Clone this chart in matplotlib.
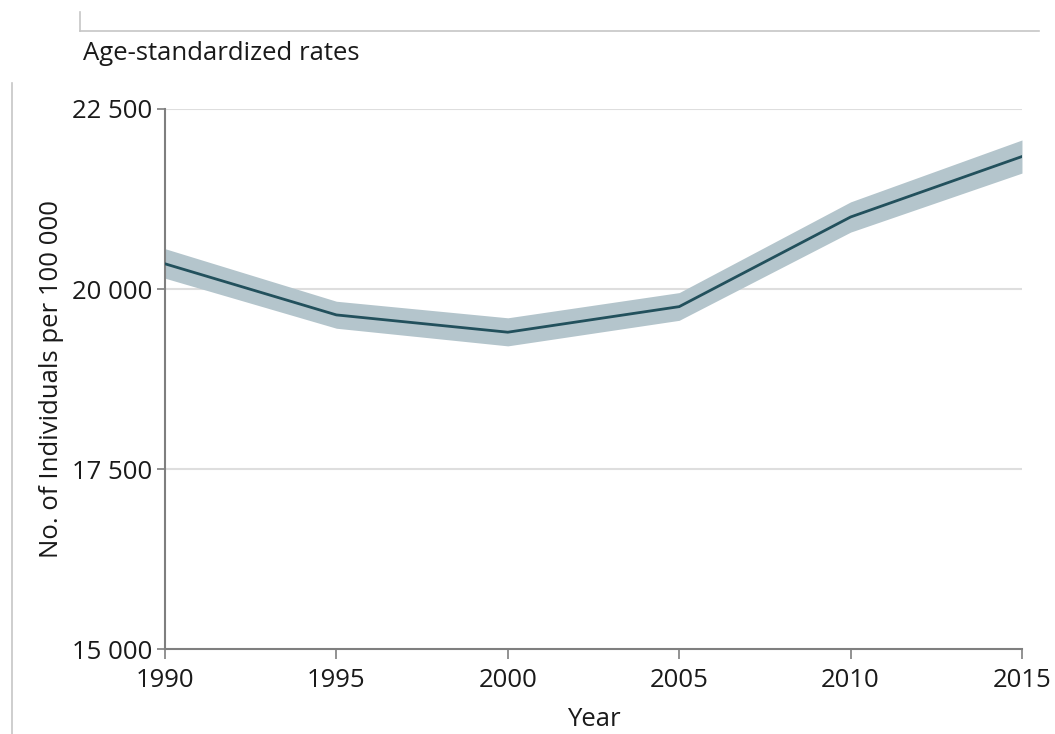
import matplotlib.pyplot as plt
from matplotlib.lines import Line2D
from matplotlib.ticker import FixedLocator, FuncFormatter

plt.rcParams['font.family'] = ['Open Sans', 'DejaVu Sans']

# age-standardized prevalence, with uncertainty interval
years = [1990, 1995, 2000, 2005, 2010, 2015]
rate = [20350, 19640, 19400, 19755, 21000, 21840]
rate_lo = [20150, 19455, 19210, 19565, 20790, 21610]
rate_hi = [20560, 19830, 19600, 19950, 21210, 22070]

y_ticks = [15000, 17500, 20000, 22500]
x_ticks = [1990, 1995, 2000, 2005, 2010, 2015]

line_color = '#22505c'
band_color = '#b4c5cc'
grid_color = '#dedede'
spine_color = '#7f7f7f'
frame_color = '#c6c6c6'
text_color = '#1a1a1a'
fs = 18.5


def spaced(v, pos=None):
    return '{:,.0f}'.format(v).replace(',', ' ')


fig = plt.figure(figsize=(10.55, 7.34), dpi=100)
ax = fig.add_axes([0.1564, 0.1158, 0.8123, 0.7357])

ax.fill_between(years, rate_lo, rate_hi, color=band_color, lw=0, zorder=2)
ax.plot(years, rate, color=line_color, lw=2.0, zorder=3,
        solid_joinstyle='miter')

ax.set_xlim(1990, 2015)
ax.set_ylim(15000, 22500)
ax.xaxis.set_major_locator(FixedLocator(x_ticks))
ax.yaxis.set_major_locator(FixedLocator(y_ticks))
ax.yaxis.set_major_formatter(FuncFormatter(spaced))

for v in y_ticks[1:]:
    ax.axhline(v, color=grid_color, lw=1.5, zorder=1)

for side in ('top', 'right'):
    ax.spines[side].set_visible(False)
for side in ('left', 'bottom'):
    ax.spines[side].set_color(spine_color)
    ax.spines[side].set_linewidth(1.5)

ax.tick_params(axis='both', colors=spine_color, width=1.2, labelsize=fs,
               labelcolor=text_color)
ax.tick_params(axis='y', length=6, pad=3)
ax.tick_params(axis='x', length=7, pad=7)

ax.set_xlabel('Year', fontsize=fs, color=text_color, labelpad=10)
ax.set_ylabel('No. of Individuals per 100 000', fontsize=fs,
              color=text_color, labelpad=6)

fig.text(0.0787, 0.927, 'Age-standardized rates', fontsize=fs,
         color=text_color, va='center', ha='left')

# panel frame pieces
fig.add_artist(Line2D([0.0758, 0.985], [0.958, 0.958], color=frame_color,
                      lw=1.2, transform=fig.transFigure))
fig.add_artist(Line2D([0.0758, 0.0758], [0.958, 0.984], color=frame_color,
                      lw=1.2, transform=fig.transFigure))
fig.add_artist(Line2D([0.0115, 0.0115], [0.0, 0.887], color=frame_color,
                      lw=1.2, transform=fig.transFigure))

fig.savefig('out.png', dpi=100)
